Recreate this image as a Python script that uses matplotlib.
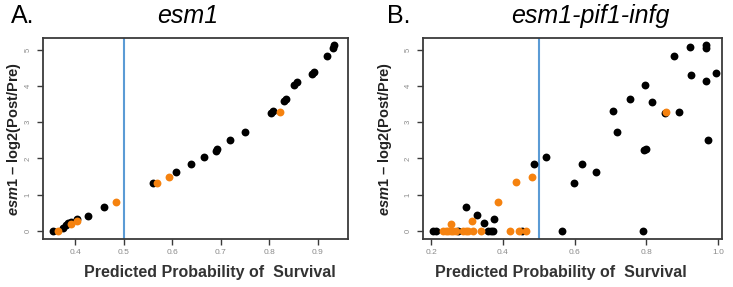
import matplotlib.pyplot as plt

plt.rcParams["font.family"] = ["Liberation Sans", "DejaVu Sans"]
plt.rcParams["mathtext.fontset"] = "custom"
plt.rcParams["mathtext.it"] = "Liberation Sans:italic:bold"
plt.rcParams["mathtext.rm"] = "Liberation Sans:bold"

# panel A: esm1
a_black_x = [0.355, 0.376, 0.381, 0.386, 0.391, 0.405, 0.426, 0.460, 0.561, 0.608,
             0.638, 0.666, 0.690, 0.692, 0.720, 0.750, 0.803, 0.808, 0.830, 0.835,
             0.851, 0.858, 0.888, 0.892, 0.919, 0.931, 0.934]
a_black_y = [0.00, 0.09, 0.17, 0.21, 0.26, 0.32, 0.42, 0.65, 1.32, 1.64,
             1.84, 2.05, 2.21, 2.26, 2.50, 2.74, 3.25, 3.30, 3.57, 3.64,
             4.03, 4.12, 4.34, 4.37, 4.82, 5.05, 5.12]
a_orange_x = [0.364, 0.391, 0.405, 0.484, 0.568, 0.594, 0.823]
a_orange_y = [0.00, 0.19, 0.28, 0.79, 1.32, 1.50, 3.27]

# panel B: esm1-pif1-infg
b_black_x = [0.205, 0.214, 0.276, 0.298, 0.328, 0.346, 0.359, 0.366, 0.373, 0.375,
             0.452, 0.486, 0.520, 0.566, 0.598, 0.621, 0.659, 0.708, 0.718, 0.755,
             0.792, 0.794, 0.800, 0.797, 0.815, 0.853, 0.878, 0.892, 0.923, 0.925,
             0.965, 0.966, 0.966, 0.971, 0.993]
b_black_y = [0.00, 0.00, 0.00, 0.67, 0.44, 0.21, 0.00, 0.00, 0.00, 0.32,
             0.00, 1.85, 2.05, 0.00, 1.32, 1.84, 1.64, 3.30, 2.74, 3.64,
             0.00, 2.22, 2.27, 4.03, 3.55, 3.25, 4.82, 3.27, 5.06, 4.31,
             5.14, 5.05, 4.14, 2.50, 4.36]
b_orange_x = [0.233, 0.240, 0.247, 0.254, 0.261, 0.268, 0.289, 0.296, 0.303, 0.317,
              0.254, 0.314, 0.340, 0.421, 0.444, 0.464, 0.385, 0.436, 0.480, 0.856]
b_orange_y = [0.00, 0.00, 0.00, 0.00, 0.00, 0.00, 0.00, 0.00, 0.00, 0.00,
              0.19, 0.28, 0.00, 0.00, 0.00, 0.00, 0.79, 1.34, 1.50, 3.27]

a_xticks = [0.4, 0.5, 0.6, 0.7, 0.8, 0.9]
b_xticks = [0.2, 0.4, 0.6, 0.8, 1.0]
yticks = [0, 1, 2, 3, 4, 5]

ORANGE = "#f5820f"
BLUE = "#5b9bd5"
FRAME = "#3a3a3a"


def draw_panel(ax, bx, by, ox, oy, xticks, xlim, xlab_x, ylab_x):
    ax.scatter(bx, by, s=32, color="black", lw=0, zorder=3)
    ax.scatter(ox, oy, s=32, color=ORANGE, lw=0, zorder=4)
    ax.axvline(0.5, color=BLUE, lw=1.5, zorder=2)
    ax.set_xlim(*xlim)
    ax.set_ylim(-0.22, 5.32)
    ax.set_xticks(xticks)
    ax.set_xticklabels([f"{t:.1f}" for t in xticks])
    ax.set_yticks(yticks)
    ax.set_yticklabels([str(t) for t in yticks], rotation=90, va="center")
    ax.tick_params(axis="both", labelsize=6, labelcolor="#8a8a8a", color=FRAME,
                   length=4, width=1)
    ax.tick_params(axis="y", labelsize=5.5, pad=4)
    for sp in ax.spines.values():
        sp.set_color(FRAME)
        sp.set_linewidth(1.3)
    ax.set_xlabel("Predicted Probability of  Survival", fontsize=11.5,
                  fontweight="bold", color="#333333")
    ax.xaxis.set_label_coords(xlab_x, -34 / 201, transform=ax.transAxes)
    ax.xaxis.label.set_va("center")
    ax.set_ylabel(r"$\it{esm1}$" + " – log2(Post/Pre)", fontsize=10.5,
                  fontweight="bold", color="#222222")
    ax.yaxis.set_label_coords(ylab_x, 0.5, transform=ax.transAxes)
    ax.yaxis.label.set_va("center")


fig = plt.figure(figsize=(7.33, 2.87), dpi=100)
ax1 = fig.add_axes([43 / 733, 48 / 287, 305 / 733, 201 / 287])
ax2 = fig.add_axes([423 / 733, 48 / 287, 299 / 733, 201 / 287])

draw_panel(ax1, a_black_x, a_black_y, a_orange_x, a_orange_y, a_xticks,
           (0.334, 0.962), 0.548, (14 - 43) / 305)
draw_panel(ax2, b_black_x, b_black_y, b_orange_x, b_orange_y, b_xticks,
           (0.177, 1.011), 0.462, (385 - 423) / 299)

fig.text(11 / 733, 1 - 16 / 287, "A.", fontsize=18, va="center", ha="left")
fig.text(188 / 733, 1 - 16 / 287, "esm1", fontsize=18, style="italic",
         va="center", ha="center")
fig.text(387 / 733, 1 - 16 / 287, "B.", fontsize=18, va="center", ha="left")
fig.text(590 / 733, 1 - 16 / 287, "esm1-pif1-infg", fontsize=18, style="italic",
         va="center", ha="center")

fig.savefig("out.png", dpi=100)
